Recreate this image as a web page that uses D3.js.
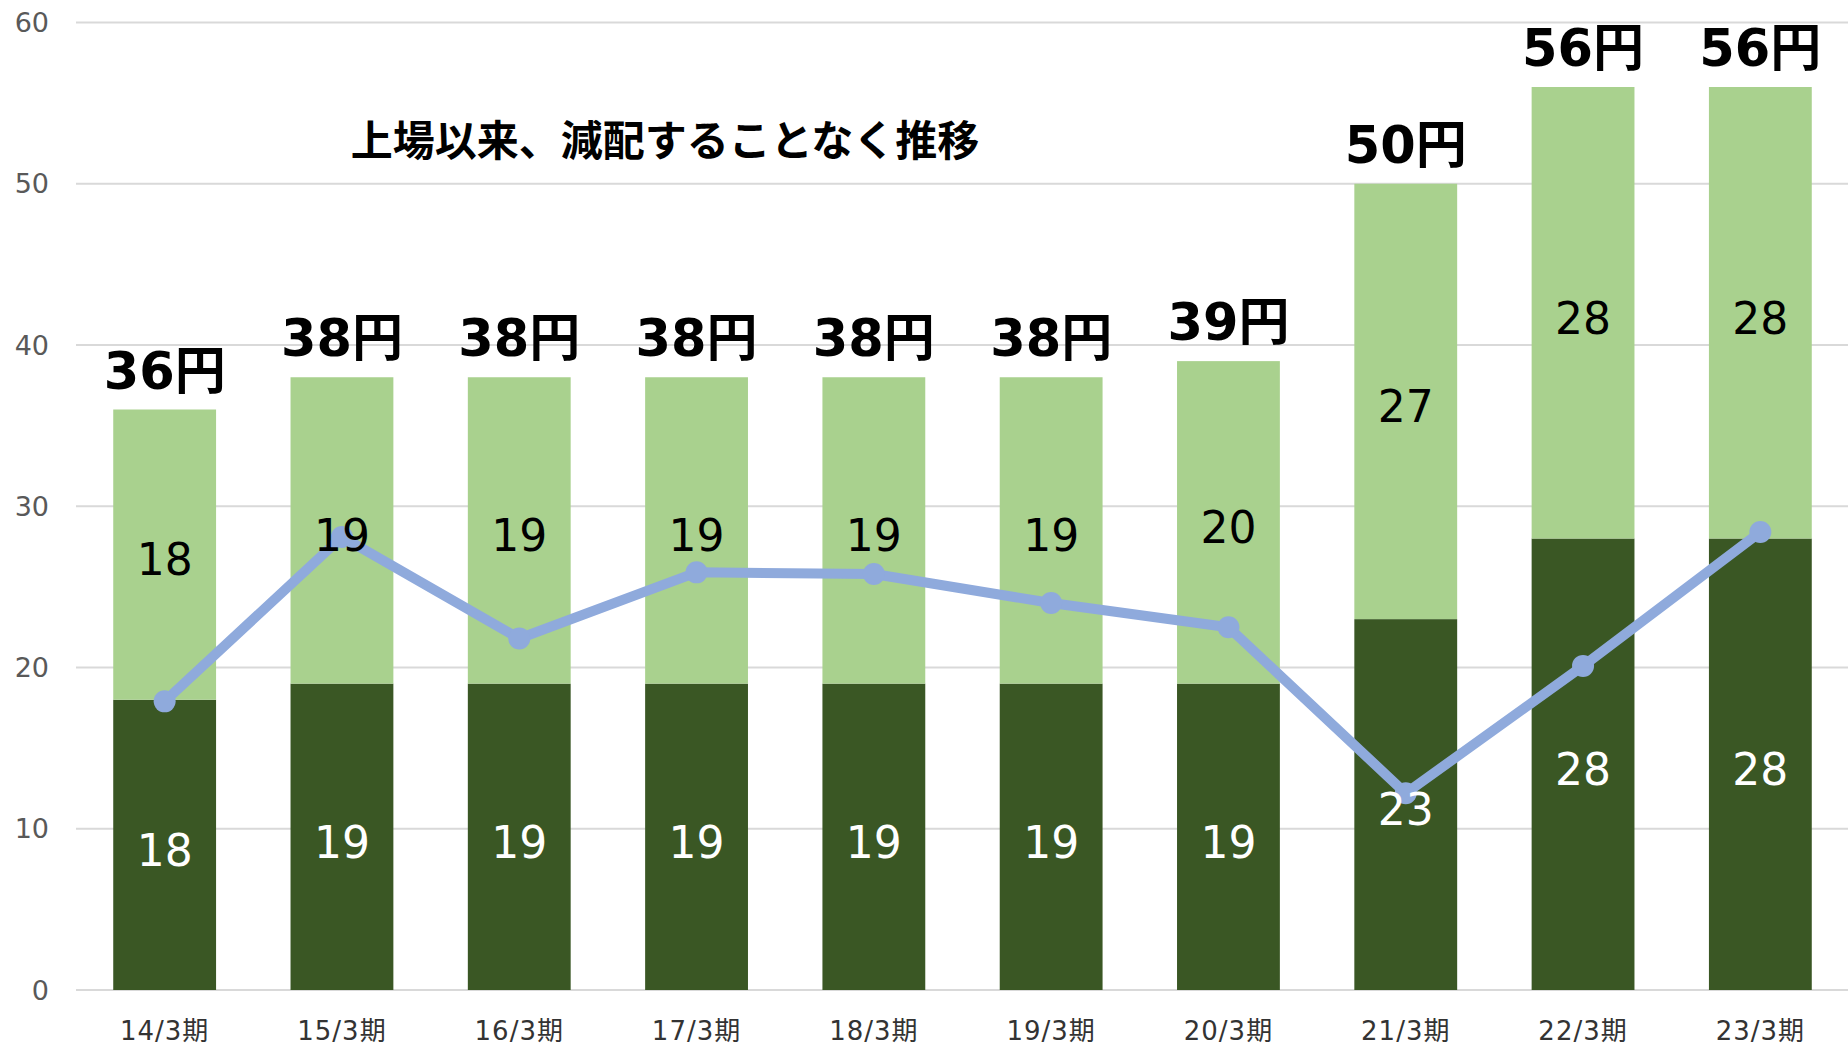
<!DOCTYPE html>
<html>
<head>
<meta charset="utf-8">
<script src="https://cdn.jsdelivr.net/npm/d3@7"></script>
<style>
  html, body { margin: 0; padding: 0; background: #fff; }
  svg { display: block; }
</style>
</head>
<body>
<div id="chart"></div>
<script>
const width = 1848;
const height = 1050;

// data
const categories = ["14/3期", "15/3期", "16/3期", "17/3期", "18/3期", "19/3期", "20/3期", "21/3期", "22/3期", "23/3期"];
const interim = [18, 19, 19, 19, 19, 19, 19, 23, 28, 28];
const yearEnd = [18, 19, 19, 19, 19, 19, 20, 27, 28, 28];
const lineValues = [17.9, 28.1, 21.8, 25.9, 25.8, 24.0, 22.5, 12.2, 20.1, 28.4];
const yTicks = [0, 10, 20, 30, 40, 50, 60];
const title = "上場以来、減配することなく推移";

const totals = interim.map((v, i) => v + yearEnd[i]);

const x = d3.scaleBand().domain(categories).range([76, 1849]).paddingInner(0.42).paddingOuter(0.21);
const y = d3.scaleLinear().domain([0, 60]).range([990, 22.5]);

const svg = d3.select("#chart").append("svg")
    .attr("width", width)
    .attr("height", height)
    .attr("viewBox", [0, 0, width, height]);

// gridlines
svg.append("g")
  .selectAll("line")
  .data(yTicks)
  .join("line")
    .attr("x1", 76)
    .attr("x2", width)
    .attr("y1", d => y(d))
    .attr("y2", d => y(d))
    .attr("stroke", "#d9d9d9")
    .attr("stroke-width", 2);

// y tick labels
svg.append("g")
  .selectAll("text")
  .data(yTicks)
  .join("text")
    .attr("x", 49)
    .attr("y", d => y(d))
    .attr("dy", "0.36em")
    .attr("text-anchor", "end")
    .attr("font-family", "DejaVu Sans, Verdana, sans-serif")
    .attr("font-size", 27)
    .attr("fill", "#595959")
    .text(d => d);

// x labels
svg.append("g")
  .selectAll("text")
  .data(categories)
  .join("text")
    .attr("x", d => x(d) + x.bandwidth() / 2)
    .attr("y", 1040)
    .attr("text-anchor", "middle")
    .attr("font-family", "DejaVu Sans, 'Noto Sans CJK JP', sans-serif")
    .attr("font-size", 26)
    .attr("letter-spacing", 1)
    .attr("fill", "#333")
    .text(d => d);

// stacked bars
const bars = svg.append("g");
bars.selectAll("rect.low")
  .data(categories)
  .join("rect")
    .attr("class", "low")
    .attr("x", d => x(d))
    .attr("width", x.bandwidth())
    .attr("y", (d, i) => y(interim[i]))
    .attr("height", (d, i) => y(0) - y(interim[i]))
    .attr("fill", "#3a5724");

bars.selectAll("rect.high")
  .data(categories)
  .join("rect")
    .attr("class", "high")
    .attr("x", d => x(d))
    .attr("width", x.bandwidth())
    .attr("y", (d, i) => y(totals[i]))
    .attr("height", (d, i) => y(interim[i]) - y(totals[i]))
    .attr("fill", "#a9d18e");

// line
const line = d3.line()
    .x((d, i) => x(categories[i]) + x.bandwidth() / 2)
    .y(d => y(d));

svg.append("path")
    .datum(lineValues)
    .attr("d", line)
    .attr("fill", "none")
    .attr("stroke", "#8faadc")
    .attr("stroke-width", 10)
    .attr("stroke-linejoin", "round");

svg.append("g")
  .selectAll("circle")
  .data(lineValues)
  .join("circle")
    .attr("cx", (d, i) => x(categories[i]) + x.bandwidth() / 2)
    .attr("cy", d => y(d))
    .attr("r", 11)
    .attr("fill", "#8faadc");

// segment labels
const segFont = "DejaVu Sans, Verdana, sans-serif";
svg.append("g")
  .selectAll("text")
  .data(interim)
  .join("text")
    .attr("x", (d, i) => x(categories[i]) + x.bandwidth() / 2)
    .attr("y", d => y(d / 2) + 5)
    .attr("dy", "0.36em")
    .attr("text-anchor", "middle")
    .attr("font-family", segFont)
    .attr("font-size", 44)
    .attr("fill", "#fff")
    .text(d => d);

svg.append("g")
  .selectAll("text")
  .data(yearEnd)
  .join("text")
    .attr("x", (d, i) => x(categories[i]) + x.bandwidth() / 2)
    .attr("y", (d, i) => y(interim[i] + d / 2) + 5)
    .attr("dy", "0.36em")
    .attr("text-anchor", "middle")
    .attr("font-family", segFont)
    .attr("font-size", 44)
    .attr("fill", "#000")
    .text(d => d);

// totals above bars
svg.append("g")
  .selectAll("text")
  .data(totals)
  .join("text")
    .attr("x", (d, i) => x(categories[i]) + x.bandwidth() / 2)
    .attr("y", d => y(d) - 21)
    .attr("text-anchor", "middle")
    .attr("font-family", "DejaVu Sans, 'Noto Sans CJK JP', sans-serif")
    .attr("font-weight", "bold")
    .attr("font-size", 51)
    .attr("fill", "#000")
    .text(d => d + "円");

// title
svg.append("text")
    .attr("x", 665)
    .attr("y", 156)
    .attr("text-anchor", "middle")
    .attr("font-family", "'Noto Sans CJK JP', sans-serif")
    .attr("font-weight", "bold")
    .attr("font-size", 42)
    .attr("fill", "#000")
    .text(title);
</script>
</body>
</html>
